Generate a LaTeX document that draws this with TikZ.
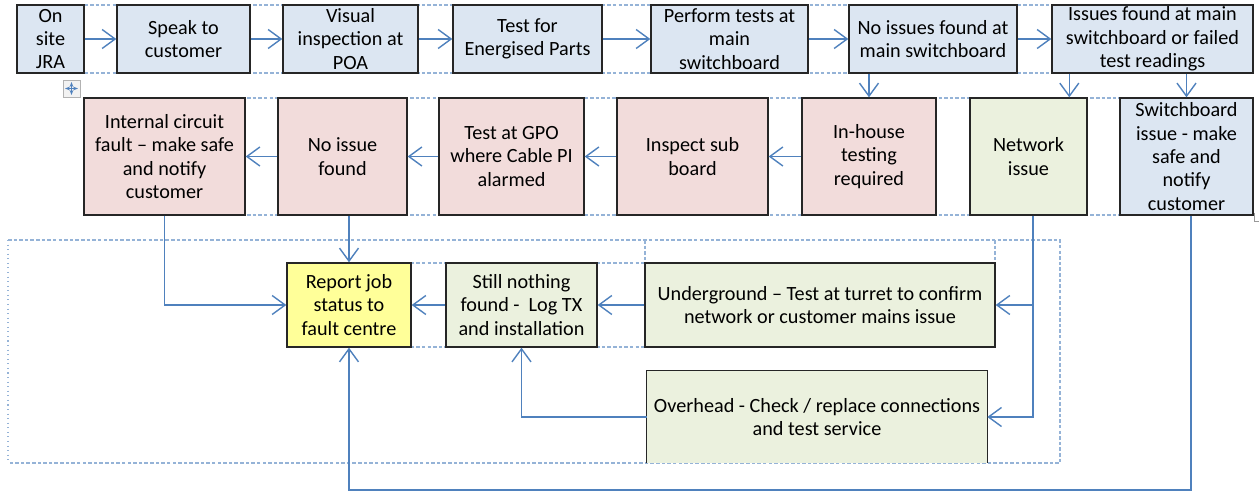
\documentclass[tikz,border=0pt]{standalone}
\usepackage{fontspec}
\setmainfont{Carlito}
\usetikzlibrary{arrows.meta}

\definecolor{cellblue}{HTML}{DCE6F2}
\definecolor{cellpink}{HTML}{F2DCDB}
\definecolor{cellgreen}{HTML}{EBF1DE}
\definecolor{cellyellow}{HTML}{FFFF99}
\definecolor{flowblue}{HTML}{4F81BD}
\definecolor{gridblue}{HTML}{95B3D7}

\begin{document}
\begin{tikzpicture}[x=0.02cm, y=-0.02cm,
    every node/.style={font=\fontsize{11.5}{13.3}\selectfont, align=center, inner sep=1pt},
    cell/.style={draw=black!85, line width=0.8pt},
    toprow/.style={cell, fill=cellblue, minimum height=1.36cm},
    midrow/.style={cell, minimum height=2.34cm},
    lowrow/.style={cell, minimum height=1.68cm},
    flow/.style={draw=flowblue, line width=0.8pt, -{Straight Barb[length=2.6mm, width=3.8mm]}},
    grid/.style={draw=gridblue, line width=0.6pt, dash pattern=on 2pt off 1.2pt}]

    \useasboundingbox (0,0) rectangle (1259,493);

    % Table borders behind the cells
    \draw[grid] (17,5) -- (1253,5);
    \draw[grid] (17,73) -- (1253,73);
    \draw[grid] (84,98) -- (1253,98);
    \draw[grid] (84,215) -- (1253,215);
    \draw[grid] (287,263) -- (995,263);
    \draw[grid] (287,347) -- (995,347);
    \draw[grid] (645,240) -- (645,263);
    \draw[grid] (995,240) -- (995,263);
    \draw[grid] (8,240) -- (1060,240) -- (1060,463) -- (8,463);
    \draw[gridblue, line width=0.6pt, dotted] (8,240) -- (8,463);

    % Table handle and end mark
    \draw[black!30, fill=black!5] (63,80) rectangle (80,97);
    \draw[flowblue, line width=0.5pt, {Stealth[length=1mm]}-{Stealth[length=1mm]}] (65,88.5) -- (78,88.5);
    \draw[flowblue, line width=0.5pt, {Stealth[length=1mm]}-{Stealth[length=1mm]}] (71.5,82) -- (71.5,95);
    \draw[black!40, line width=0.4pt] (1254,213) -- (1254,221) -- (1259,221);

    % Top row
    \node[toprow, minimum width=1.34cm] (jra) at (50.5,39) {On\\site\\JRA};
    \node[toprow, minimum width=2.66cm] (speak) at (183.5,39) {Speak to\\customer};
    \node[toprow, minimum width=2.70cm] (visual) at (350.5,39) {Visual\\inspection at\\POA};
    \node[toprow, minimum width=2.98cm] (energised) at (527.5,39) {Test for\\Energised Parts};
    \node[toprow, minimum width=3.14cm] (perform) at (729.5,39) {Perform tests at\\main\\switchboard};
    \node[toprow, minimum width=3.36cm] (noissues) at (933,39) {No issues found at\\main switchboard};
    \node[toprow, minimum width=4.02cm] (issues) at (1152.5,39) {Issues found at main\\switchboard or failed\\test readings};

    % Middle row
    \node[midrow, fill=cellpink, minimum width=3.22cm] (internal) at (164.5,156.5) {Internal circuit\\fault -- make safe\\and notify\\customer};
    \node[midrow, fill=cellpink, minimum width=2.58cm] (noissue) at (342.5,156.5) {No issue\\found};
    \node[midrow, fill=cellpink, minimum width=2.90cm] (gpo) at (511.5,156.5) {Test at GPO\\where Cable PI\\alarmed};
    \node[midrow, fill=cellpink, minimum width=3.02cm] (inspect) at (692.5,156.5) {Inspect sub\\board};
    \node[midrow, fill=cellpink, minimum width=2.68cm] (inhouse) at (869,156.5) {In-house\\testing\\required};
    \node[midrow, fill=cellgreen, minimum width=2.34cm] (network) at (1028.5,156.5) {Network\\issue};
    \node[midrow, fill=cellblue, minimum width=2.66cm] (switchboard) at (1186.5,156.5) {Switchboard\\issue - make\\safe and\\notify\\customer};

    % Bottom area
    \node[lowrow, fill=cellyellow, minimum width=2.48cm] (report) at (349,305) {Report job\\status to\\fault centre};
    \node[lowrow, fill=cellgreen, minimum width=3.02cm] (still) at (521.5,305) {Still nothing\\found -\ \ Log TX\\and installation};
    \node[lowrow, fill=cellgreen, minimum width=7.00cm] (underground) at (820,305) {Underground -- Test at turret to confirm\\network or customer mains issue};
    \node[fill=cellgreen, minimum width=6.80cm, minimum height=1.84cm] (overhead) at (817,417) {Overhead - Check / replace connections\\and test service};
    \draw[cell] (overhead.south west) -- (overhead.north west) -- (overhead.north east) -- (overhead.south east);
    \coordinate (bottomrun) at (0,490);

    % Flow along the top row
    \draw[flow] (jra) -- (speak);
    \draw[flow] (speak) -- (visual);
    \draw[flow] (visual) -- (energised);
    \draw[flow] (energised) -- (perform);
    \draw[flow] (perform) -- (noissues);
    \draw[flow] (noissues) -- (issues);

    % Down into the middle row
    \draw[flow] (inhouse.north |- noissues.south) -- (inhouse.north);
    \draw[flow] ([xshift=0.36cm]issues.south west) -- ([xshift=0.36cm]issues.south west |- network.north);
    \draw[flow] (switchboard.north |- issues.south) -- (switchboard.north);

    % Middle row, right to left
    \draw[flow] (inhouse) -- (inspect);
    \draw[flow] (inspect) -- (gpo);
    \draw[flow] (gpo) -- (noissue);
    \draw[flow] (noissue) -- (internal);

    % Into the report
    \draw[flow] (internal.south) |- (report.west);
    \draw[flow] (report.north |- noissue.south) -- (report.north);
    \draw[flow] (still) -- (report);
    \draw[flow] (underground) -- (still);
    \draw[flow] (overhead.west) -| (still.south);
    \draw[flow] ([xshift=0.09cm]network.south) |- (underground.east);
    \draw[flow] ([xshift=0.09cm]network.south) |- (overhead.east);
    \draw[flow] ([xshift=0.09cm]switchboard.south) -- ([xshift=0.09cm]switchboard.south |- bottomrun) -| (report.south);
\end{tikzpicture}
\end{document}
